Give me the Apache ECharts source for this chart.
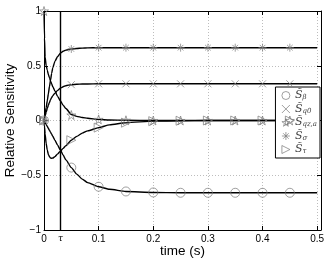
<!DOCTYPE html>
<html>
<head>
<meta charset="utf-8">
<script src="https://cdn.jsdelivr.net/npm/echarts@6/dist/echarts.min.js"></script>
<style>html,body{margin:0;padding:0;background:#fff}#c{width:327px;height:261px}</style>
</head>
<body>
<div id="c"></div>
<script>
// ---- data ----
const curveT = [0, 0.001, 0.002, 0.004, 0.006, 0.008, 0.01, 0.012, 0.014, 0.016, 0.02, 0.025, 0.03, 0.035, 0.04, 0.05, 0.06, 0.07, 0.08, 0.1, 0.12, 0.15, 0.2, 0.25, 0.3, 0.4, 0.5];
const curveBeta = [0, -0.009, -0.018, -0.036, -0.054, -0.072, -0.09, -0.108, -0.126, -0.144, -0.18, -0.225, -0.27, -0.315, -0.36, -0.43, -0.49, -0.535, -0.567, -0.605, -0.628, -0.648, -0.657, -0.66, -0.66, -0.66, -0.66];
const curveQ0 = [0, 0.02, 0.04, 0.075, 0.11, 0.14, 0.165, 0.19, 0.21, 0.225, 0.25, 0.275, 0.295, 0.308, 0.318, 0.327, 0.331, 0.333, 0.334, 0.335, 0.335, 0.335, 0.335, 0.335, 0.335, 0.335, 0.335];
const curveQz = [1, 0.75, 0.58, 0.5, 0.46, 0.42, 0.39, 0.36, 0.335, 0.31, 0.27, 0.22, 0.18, 0.14, 0.11, 0.055, 0.038, 0.027, 0.02, 0.01, 0.005, 0.002, 0, 0, 0, 0, 0];
const curveSigma = [0, 0.03, 0.06, 0.12, 0.18, 0.245, 0.31, 0.37, 0.43, 0.48, 0.54, 0.585, 0.615, 0.632, 0.643, 0.653, 0.658, 0.661, 0.663, 0.665, 0.665, 0.665, 0.665, 0.665, 0.665, 0.665, 0.665];
const curveTau = [0, -0.06, -0.12, -0.21, -0.27, -0.31, -0.33, -0.342, -0.345, -0.343, -0.33, -0.305, -0.28, -0.255, -0.23, -0.18, -0.145, -0.115, -0.095, -0.065, -0.04, -0.02, -0.006, -0.002, 0, 0, 0];

const markT = [0, 0.05, 0.1, 0.15, 0.2, 0.25, 0.3, 0.35, 0.4, 0.45];
const markBeta = [0, -0.43, -0.605, -0.648, -0.657, -0.66, -0.66, -0.66, -0.66, -0.66];
const markQ0 = [0, 0.327, 0.335, 0.335, 0.335, 0.335, 0.335, 0.335, 0.335, 0.335];
const markQz = [1, 0.05, 0.01, 0.002, 0, 0, 0, 0, 0, 0];
const markSigma = [0, 0.653, 0.665, 0.665, 0.665, 0.665, 0.665, 0.665, 0.665, 0.665];
const markTau = [0, -0.18, -0.065, -0.02, -0.006, -0.002, 0, 0, 0, 0];

const tauValue = 0.025;
const legendSubs = ['β', 'q0', 'qz,a', 'σ', 'τ'];
const xTicks = [0, 0.1, 0.2, 0.3, 0.4, 0.5];
const yTicks = [-1, -0.5, 0, 0.5, 1];
const xTitle = 'time (s)';
const yTitle = 'Relative Sensitivity';

// ---- chart ----
const zip = (xs, ys) => xs.map((x, i) => [x, ys[i]]);
const names = legendSubs.map(s => 'S_' + s);
const symbols = [
  'circle',
  'path://M0,0L10,10M10,0L0,10',
  'path://M50,0L61,35L98,35L68,57L79,91L50,70L21,91L32,57L2,35L39,35Z',
  'path://M5,0L5,10M0,5L10,5M1.5,1.5L8.5,8.5M8.5,1.5L1.5,8.5',
  'path://M0,0L10,5L0,10Z'
];
const symSizes = [9, 7, 9, 8, 9];
const curves = [curveBeta, curveQ0, curveQz, curveSigma, curveTau];
const marks = [markBeta, markQ0, markQz, markSigma, markTau];
const markerColor = '#7a7a7a';
const markerStyle = { color: 'rgba(0,0,0,0)', borderColor: markerColor, borderWidth: 0.9 };

const series = [];
curves.forEach((c, i) => {
  series.push({
    type: 'line', name: 'curve' + i, data: zip(curveT, c),
    symbol: 'none', smooth: 0.2, smoothMonotone: 'x',
    lineStyle: { color: '#000', width: 1.4 }, z: 3, silent: true,
    markLine: i === 0 ? {
      silent: true, symbol: 'none', animation: false,
      lineStyle: { color: '#000', width: 1.4, type: 'solid' },
      label: { show: true, position: 'start', formatter: 'τ', distance: 4,
        fontFamily: 'DejaVu Serif', fontStyle: 'italic', fontSize: 9, color: '#000' },
      data: [{ xAxis: tauValue }]
    } : undefined
  });
});
marks.forEach((m, i) => {
  series.push({
    type: 'scatter', name: names[i], data: zip(markT, m),
    symbol: symbols[i], symbolSize: symSizes[i],
    itemStyle: markerStyle,
    z: 4, silent: true
  });
});

const axisFont = { fontFamily: 'Liberation Sans', fontSize: 10, color: '#000' };
const subMap = {};
names.forEach((n, i) => subMap[n] = legendSubs[i]);
const W = 327, H = 261, gl = 44, gr = 6, gt = 11, gb = 31;

const option = {
  animation: false,
  grid: { left: gl, right: gr, top: gt, bottom: gb, containLabel: false, outerBoundsMode: 'none' },
  graphic: [
    { type: 'text', x: gl + (W - gl - gr) / 2, y: 251, silent: true,
      style: { text: xTitle, align: 'center', verticalAlign: 'middle', fill: '#000',
        font: '13.5px "Liberation Sans", Arial, sans-serif' } },
    { type: 'text', x: 10, y: gt + (H - gt - gb) / 2, rotation: Math.PI / 2, silent: true,
      style: { text: yTitle, align: 'center', verticalAlign: 'middle', fill: '#000',
        font: '13.5px "Liberation Sans", Arial, sans-serif' } }
  ],
  legend: {
    data: names.map((n, i) => ({ name: n, icon: symbols[i], itemStyle: markerStyle })),
    orient: 'vertical', right: 7, top: 87,
    backgroundColor: '#fff', borderColor: '#000', borderWidth: 1, borderRadius: 0,
    padding: [3, 3, 3, 6], itemGap: 2.5, itemWidth: 8, itemHeight: 8,
    selectedMode: false,
    formatter: n => '{s|S\u0303}{b|' + subMap[n] + '}',
    textStyle: {
      color: '#000',
      rich: {
        s: { fontFamily: 'DejaVu Serif', fontStyle: 'italic', fontSize: 11, lineHeight: 11, color: '#444' },
        b: { fontFamily: 'DejaVu Serif', fontStyle: 'italic', fontSize: 7, lineHeight: 11, verticalAlign: 'bottom', color: '#444' }
      }
    }
  },
  xAxis: [{
    type: 'value', min: 0, max: 0.507, interval: 0.1, position: 'bottom',
    axisLine: { show: true, onZero: false, lineStyle: { color: '#000', width: 1 } },
    axisTick: { show: true, inside: true, length: 4, lineStyle: { color: '#000' } },
    axisLabel: Object.assign({ margin: 4, showMaxLabel: true,
      formatter: v => xTicks.some(t => Math.abs(t - v) < 1e-9) ? String(Number(v.toFixed(2))) : '' }, axisFont),
    splitLine: { show: true, lineStyle: { color: '#bdbdbd', type: [1, 2], width: 1 } }
  }, {
    type: 'value', min: 0, max: 0.507, interval: 0.1, position: 'top',
    axisLine: { show: true, onZero: false, lineStyle: { color: '#000', width: 1 } },
    axisTick: { show: true, inside: true, length: 4, lineStyle: { color: '#000' } },
    axisLabel: { show: false }, splitLine: { show: false }
  }],
  yAxis: [{
    type: 'value', min: -1, max: 1, interval: 0.5, position: 'left',
    axisLine: { show: true, onZero: false, lineStyle: { color: '#000', width: 1 } },
    axisTick: { show: true, inside: true, length: 4, lineStyle: { color: '#000' } },
    axisLabel: Object.assign({ margin: 3,
      formatter: v => yTicks.includes(v) ? String(v).replace('-', '\u2212') : '' }, axisFont),
    splitLine: { show: true, lineStyle: { color: '#bdbdbd', type: [1, 2], width: 1 } }
  }, {
    type: 'value', min: -1, max: 1, interval: 0.5, position: 'right',
    axisLine: { show: true, onZero: false, lineStyle: { color: '#000', width: 1 } },
    axisTick: { show: true, inside: true, length: 4, lineStyle: { color: '#000' } },
    axisLabel: { show: false }, splitLine: { show: false }
  }],
  series: series
};

const chart = echarts.init(document.getElementById('c'), null, { renderer: 'canvas' });
chart.setOption(option);
</script>
</body>
</html>
